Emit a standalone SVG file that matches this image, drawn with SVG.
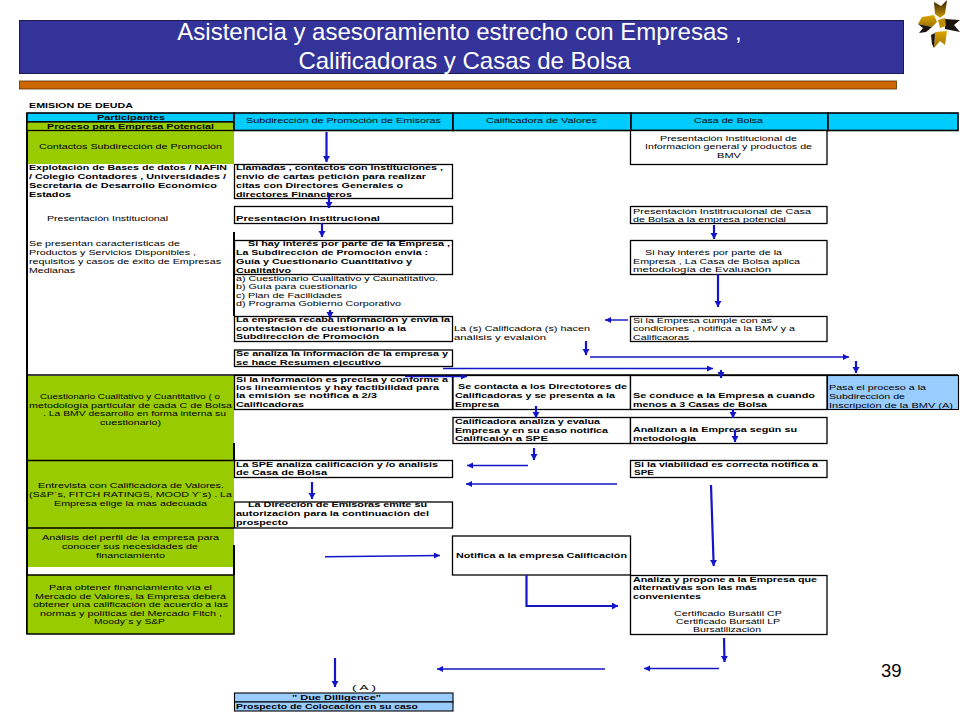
<svg xmlns="http://www.w3.org/2000/svg" width="960" height="720" viewBox="0 0 960 720">
<style>
text{font-family:"Liberation Sans",Arial,sans-serif;fill:#000}
.t{font-size:7.5px}
.b{font-size:7.5px;font-weight:bold}
.title{font-size:24px;fill:#fff;text-anchor:middle}
.box{fill:#fff;stroke:#000;stroke-width:1.3}
.cy{fill:#00ccff;stroke:#000;stroke-width:1.6}
.gr{fill:#99cc00}
.lb{fill:#99ccff;stroke:#000;stroke-width:1.1}
.rule{stroke:#000;stroke-width:1.3;fill:none}
.thick{stroke:#000;stroke-width:2;fill:none}
.a{fill:none;stroke:#1414c8;stroke-width:2.2;marker-end:url(#ah)}
.a2{fill:none;stroke:#1414c8;stroke-width:1.4;marker-end:url(#ah2)}
</style>
<defs>
<marker id="ah" markerUnits="userSpaceOnUse" markerWidth="8" markerHeight="8" refX="6" refY="3.5" orient="auto"><path d="M0 0L6 3.5L0 7Z" fill="#1414c8"/></marker>
<marker id="ah2" markerUnits="userSpaceOnUse" markerWidth="8" markerHeight="8" refX="6" refY="3" orient="auto"><path d="M0 0L6 3L0 6Z" fill="#1414c8"/></marker>
<linearGradient id="gold" x1="0" y1="0" x2="0" y2="1"><stop offset="0" stop-color="#2a1c00"/><stop offset="1" stop-color="#d29a00"/></linearGradient>
<linearGradient id="gold2" x1="0" y1="0" x2="0" y2="1"><stop offset="0" stop-color="#e0a800"/><stop offset="1" stop-color="#9a7000"/></linearGradient>
</defs>

<g id="title">
<rect x="19.500" y="20.500" width="884" height="53" fill="#333399" stroke="#1a1a50"/>
<text class="title" x="459.500" y="40">Asistencia y asesoramiento estrecho con Empresas ,</text>
<text class="title" x="464.500" y="69">Calificadoras y Casas de Bolsa</text>
<rect x="19.500" y="81" width="877" height="8" fill="#cc6600" stroke="#5a3000" stroke-width="0.8"/>
</g>
<g id="logo">
<polygon points="934,2 941,6 947,0 945,14 940,18 935,14" fill="url(#gold)"/>
<polygon points="922,17 934,15 937,22 932,27 918,24" fill="url(#gold2)"/>
<polygon points="945,19 960,20 954,25 960,32 945,29" fill="#1a1410"/>
<polygon points="938,20 945,18 946,26 940,28" fill="#c08c00"/>
<polygon points="918,24 932,27 926,32 919,33 923,28" fill="#1a1410"/>
<polygon points="935,32 947,31 945,45 940,41 934,48" fill="url(#gold2)"/>
<polygon points="931,35 935,33 934,48 932,44" fill="#1a1410"/>
</g>

<g id="grid">
<rect x="28" y="130" width="206" height="34" class="gr"/>
<rect x="28" y="376" width="206" height="84" class="gr"/>
<rect x="28" y="461" width="206" height="67" class="gr"/>
<rect x="28" y="528" width="206" height="39" class="gr"/>
<path class="rule" d="M27 375H958M28 460.500H234M28 528H234"/>
<path class="thick" d="M27 113V634M234 232V316M234 443V460M234 545V575"/>
</g>

<g id="head-participantes"><rect x="27" y="113" width="207" height="9" class="cy"/><text class="b" x="97" y="120" textLength="68" lengthAdjust="spacingAndGlyphs">Participantes</text></g>
<g id="head-proceso"><rect x="27" y="122" width="207" height="8.500" class="gr" stroke="#000" stroke-width="1.300"/><text class="b" x="47" y="128.500" textLength="167" lengthAdjust="spacingAndGlyphs">Proceso para Empresa Potencial</text></g>
<g id="head-sub"><rect x="234" y="113" width="219" height="17.500" class="cy"/><text class="t" x="246" y="123" textLength="195" lengthAdjust="spacingAndGlyphs">Subdirección de Promoción de Emisoras</text></g>
<g id="head-cal"><rect x="453" y="113" width="178" height="17.500" class="cy"/><text class="t" x="486" y="123" textLength="111" lengthAdjust="spacingAndGlyphs">Calificadora de Valores</text></g>
<g id="head-casa"><rect x="631" y="113" width="197" height="17.500" class="cy"/><text class="t" x="694" y="123" textLength="69" lengthAdjust="spacingAndGlyphs">Casa de Bolsa</text></g>
<g id="head-end"><rect x="828" y="113" width="130" height="17.500" class="cy"/></g>

<g id="doc-title"><text class="b" x="29" y="108" textLength="104" lengthAdjust="spacingAndGlyphs">EMISION DE DEUDA</text></g>

<g id="proc-contactos"><text class="t" x="39" y="149" textLength="183" lengthAdjust="spacingAndGlyphs">Contactos Subdirección de Promoción</text></g>
<g id="proc-explotacion">
<text class="b" x="29" y="169.500" textLength="198" lengthAdjust="spacingAndGlyphs">Explotación de Bases de datos / NAFIN</text>
<text class="b" x="29" y="178.500" textLength="197" lengthAdjust="spacingAndGlyphs">/ Colegio Contadores , Universidades /</text>
<text class="b" x="29" y="187.500" textLength="188" lengthAdjust="spacingAndGlyphs">Secretaria de Desarrollo Económico</text>
<text class="b" x="29" y="196.500" textLength="42" lengthAdjust="spacingAndGlyphs">Estados</text>
</g>
<g id="proc-presentacion"><text class="t" x="47" y="221" textLength="121" lengthAdjust="spacingAndGlyphs">Presentación Institucional</text></g>
<g id="proc-caracteristicas">
<text class="t" x="29" y="246" textLength="151" lengthAdjust="spacingAndGlyphs">Se presentan características de</text>
<text class="t" x="29" y="255" textLength="167" lengthAdjust="spacingAndGlyphs">Productos y Servicios Disponibles ,</text>
<text class="t" x="29" y="264" textLength="192" lengthAdjust="spacingAndGlyphs">requisitos y casos de éxito de Empresas</text>
<text class="t" x="29" y="272.500" textLength="46" lengthAdjust="spacingAndGlyphs">Medianas</text>
</g>
<g id="proc-cuestionario">
<text class="t" x="40" y="399" textLength="180" lengthAdjust="spacingAndGlyphs">Cuestionario Cualitativo y Cuantitativo ( o</text>
<text class="t" x="29" y="407.500" textLength="203" lengthAdjust="spacingAndGlyphs">metodología particular de cada C de Bolsa</text>
<text class="t" x="43" y="416" textLength="183" lengthAdjust="spacingAndGlyphs">. La BMV desarrollo en forma interna su</text>
<text class="t" x="100" y="424.500" textLength="61" lengthAdjust="spacingAndGlyphs">cuestionario)</text>
</g>
<g id="proc-entrevista">
<text class="t" x="38" y="488" textLength="186" lengthAdjust="spacingAndGlyphs">Entrevista con Calificadora de Valores.</text>
<text class="t" x="29" y="497" textLength="203" lengthAdjust="spacingAndGlyphs">(S&amp;P´s, FITCH RATINGS, MOOD Y´s) . La</text>
<text class="t" x="54" y="505.500" textLength="153" lengthAdjust="spacingAndGlyphs">Empresa elige la más adecuada</text>
</g>
<g id="proc-analisis">
<text class="t" x="42" y="540" textLength="177" lengthAdjust="spacingAndGlyphs">Análisis del perfil de la empresa para</text>
<text class="t" x="62" y="549" textLength="136" lengthAdjust="spacingAndGlyphs">conocer sus necesidades de</text>
<text class="t" x="96" y="558" textLength="69" lengthAdjust="spacingAndGlyphs">financiamiento</text>
</g>
<g id="proc-obtener">
<rect x="27" y="575" width="207" height="59" class="gr" stroke="#000" stroke-width="1.500"/>
<text class="t" x="49" y="590" textLength="163" lengthAdjust="spacingAndGlyphs">Para obtener financiamiento vía el</text>
<text class="t" x="35" y="598.500" textLength="191" lengthAdjust="spacingAndGlyphs">Mercado de Valores, la Empresa deberá</text>
<text class="t" x="33" y="607" textLength="195" lengthAdjust="spacingAndGlyphs">obtener una calificación de acuerdo a las</text>
<text class="t" x="40" y="615.500" textLength="182" lengthAdjust="spacingAndGlyphs">normas y políticas del Mercado Fitch ,</text>
<text class="t" x="94" y="624" textLength="71" lengthAdjust="spacingAndGlyphs">Moody´s y S&amp;P</text>
</g>

<g id="sub-llamadas">
<rect x="234.500" y="164.500" width="218" height="34" class="box"/>
<text class="b" x="236" y="169.500" textLength="207" lengthAdjust="spacingAndGlyphs">Llamadas , contactos con instituciones ,</text>
<text class="b" x="236" y="178.500" textLength="190" lengthAdjust="spacingAndGlyphs">envio de cartas petición para realizar</text>
<text class="b" x="236" y="187.500" textLength="167" lengthAdjust="spacingAndGlyphs">citas con Directores Generales o</text>
<text class="b" x="236" y="196.500" textLength="116" lengthAdjust="spacingAndGlyphs">directores Financieros</text>
</g>
<g id="sub-presentacion">
<rect x="234.500" y="206.500" width="218" height="17" class="box"/>
<text class="b" x="236" y="221" textLength="144" lengthAdjust="spacingAndGlyphs">Presentación Institrucional</text>
</g>
<g id="sub-interes">
<rect x="234.500" y="240.500" width="218" height="34" class="box"/>
<text class="b" x="248" y="245.500" textLength="202" lengthAdjust="spacingAndGlyphs">Si hay interés por parte de la Empresa ,</text>
<text class="b" x="236" y="254.500" textLength="192" lengthAdjust="spacingAndGlyphs">La Subdirección de Promoción envia :</text>
<text class="b" x="236" y="263.500" textLength="176" lengthAdjust="spacingAndGlyphs">Guía y Cuestionario Cuantitativo y</text>
<text class="b" x="236" y="272.500" textLength="55" lengthAdjust="spacingAndGlyphs">Cualitativo</text>
</g>
<g id="sub-lista">
<text class="t" x="236" y="280.500" textLength="202" lengthAdjust="spacingAndGlyphs">a) Cuestionario Cualitativo y Caunatitativo.</text>
<text class="t" x="236" y="289" textLength="121" lengthAdjust="spacingAndGlyphs">b) Guía para cuestionario</text>
<text class="t" x="236" y="297.500" textLength="106" lengthAdjust="spacingAndGlyphs">c) Plan de Facilidades</text>
<text class="t" x="236" y="305.500" textLength="165" lengthAdjust="spacingAndGlyphs">d) Programa Gobierno Corporativo</text>
</g>
<g id="sub-recaba">
<rect x="234.500" y="316.500" width="218" height="25" class="box"/>
<text class="b" x="236" y="322" textLength="214" lengthAdjust="spacingAndGlyphs">La empresa recaba información y envia la</text>
<text class="b" x="236" y="330.500" textLength="170" lengthAdjust="spacingAndGlyphs">contestación de cuestionario a la</text>
<text class="b" x="236" y="339" textLength="143" lengthAdjust="spacingAndGlyphs">Subdirección de Promoción</text>
</g>
<g id="sub-analiza">
<rect x="234.500" y="350" width="218" height="16.500" class="box"/>
<text class="b" x="236" y="356" textLength="212" lengthAdjust="spacingAndGlyphs">Se analiza la información de la empresa y</text>
<text class="b" x="236" y="364.500" textLength="145" lengthAdjust="spacingAndGlyphs">se hace Resumen ejecutivo</text>
</g>
<g id="sub-precisa">
<rect x="234.500" y="375.500" width="218" height="34" class="box"/>
<text class="b" x="236" y="381.500" textLength="212" lengthAdjust="spacingAndGlyphs">Si la información es precisa y conforme a</text>
<text class="b" x="236" y="389.500" textLength="203" lengthAdjust="spacingAndGlyphs">los lineamientos y hay factibilidad para</text>
<text class="b" x="236" y="398" textLength="141" lengthAdjust="spacingAndGlyphs">la emisión se notifica a 2/3</text>
<text class="b" x="236" y="407" textLength="68" lengthAdjust="spacingAndGlyphs">Calificadoras</text>
</g>
<g id="sub-spe">
<rect x="234.500" y="460.500" width="218" height="17" class="box"/>
<text class="b" x="236" y="466.500" textLength="202" lengthAdjust="spacingAndGlyphs">La SPE analiza calificación y /o analisis</text>
<text class="b" x="236" y="475" textLength="91" lengthAdjust="spacingAndGlyphs">de Casa de Bolsa</text>
</g>
<g id="sub-direccion">
<rect x="234.500" y="502" width="218" height="26" class="box"/>
<text class="b" x="248" y="507" textLength="179" lengthAdjust="spacingAndGlyphs">La Dirección de Emisoras emite su</text>
<text class="b" x="236" y="516" textLength="193" lengthAdjust="spacingAndGlyphs">autorización para la continuación del</text>
<text class="b" x="236" y="525" textLength="52" lengthAdjust="spacingAndGlyphs">prospecto</text>
</g>
<g id="sub-due">
<rect x="234.500" y="693" width="218.500" height="9" class="lb"/>
<rect x="234.500" y="702" width="218.500" height="9" class="lb"/>
<text class="b" x="292" y="700" textLength="89" lengthAdjust="spacingAndGlyphs">" Due Dilligence"</text>
<text class="b" x="236" y="709" textLength="182" lengthAdjust="spacingAndGlyphs">Prospecto de Colocación en su caso</text>
</g>
<g id="label-a"><text class="t" x="352" y="690" textLength="24" lengthAdjust="spacingAndGlyphs">( A )</text></g>

<g id="cal-hacen">
<text class="t" x="454" y="331" textLength="136" lengthAdjust="spacingAndGlyphs">La (s) Calificadora (s) hacen</text>
<text class="t" x="454" y="339.500" textLength="92" lengthAdjust="spacingAndGlyphs">análisis y evalaión</text>
</g>
<g id="cal-contacta">
<rect x="453" y="375.500" width="177.500" height="34" class="box"/>
<text class="b" x="458" y="389" textLength="169" lengthAdjust="spacingAndGlyphs">Se contacta a los Directotores de</text>
<text class="b" x="455" y="398" textLength="160" lengthAdjust="spacingAndGlyphs">Calificadoras y se presenta a la</text>
<text class="b" x="455" y="407" textLength="44" lengthAdjust="spacingAndGlyphs">Empresa</text>
</g>
<g id="cal-analiza">
<rect x="453" y="417.500" width="177.500" height="26" class="box"/>
<text class="b" x="455" y="423.500" textLength="145" lengthAdjust="spacingAndGlyphs">Calificadora analiza y evalua</text>
<text class="b" x="455" y="432.500" textLength="153" lengthAdjust="spacingAndGlyphs">Empresa y en su caso notifica</text>
<text class="b" x="455" y="441" textLength="93" lengthAdjust="spacingAndGlyphs">Calificaión a SPE</text>
</g>
<g id="cal-notifica">
<rect x="452.500" y="536" width="178" height="39" class="box"/>
<text class="b" x="456" y="558" textLength="171" lengthAdjust="spacingAndGlyphs">Notifica a la empresa Calificación</text>
</g>

<g id="casa-institucional">
<rect x="630.500" y="130.500" width="196.500" height="34" class="box"/>
<text class="t" x="660" y="140.500" textLength="137" lengthAdjust="spacingAndGlyphs">Presentación Institucional de</text>
<text class="t" x="645" y="149" textLength="167" lengthAdjust="spacingAndGlyphs">Información general y productos de</text>
<text class="t" x="717" y="158" textLength="24" lengthAdjust="spacingAndGlyphs">BMV</text>
</g>
<g id="casa-presentacion">
<rect x="630.500" y="206.500" width="196.500" height="17" class="box"/>
<text class="t" x="633" y="213.500" textLength="178" lengthAdjust="spacingAndGlyphs">Presentación Institrucuional de Casa</text>
<text class="t" x="633" y="221.500" textLength="153" lengthAdjust="spacingAndGlyphs">de Bolsa a la empresa potencial</text>
</g>
<g id="casa-interes">
<rect x="630.500" y="240.500" width="196.500" height="34" class="box"/>
<text class="t" x="645" y="255" textLength="137" lengthAdjust="spacingAndGlyphs">Si hay interés por parte de la</text>
<text class="t" x="633" y="263.500" textLength="167" lengthAdjust="spacingAndGlyphs">Empresa , La Casa de Bolsa aplica</text>
<text class="t" x="633" y="272" textLength="138" lengthAdjust="spacingAndGlyphs">metodología de Evaluación</text>
</g>
<g id="casa-cumple">
<rect x="630.500" y="316.500" width="196.500" height="25" class="box"/>
<text class="t" x="633" y="322.500" textLength="139" lengthAdjust="spacingAndGlyphs">Si la Empresa cumple con as</text>
<text class="t" x="633" y="331" textLength="162" lengthAdjust="spacingAndGlyphs">condiciones , notifica a la BMV y a</text>
<text class="t" x="633" y="339.500" textLength="56" lengthAdjust="spacingAndGlyphs">Calificaoras</text>
</g>
<g id="casa-conduce">
<rect x="630.500" y="375.500" width="196.500" height="34" class="box"/>
<text class="b" x="633" y="398" textLength="182" lengthAdjust="spacingAndGlyphs">Se conduce a la Empresa a cuando</text>
<text class="b" x="633" y="407" textLength="134" lengthAdjust="spacingAndGlyphs">menos a 3 Casas de Bolsa</text>
</g>
<g id="casa-analizan">
<rect x="630.500" y="417.500" width="196.500" height="26" class="box"/>
<text class="b" x="633" y="432" textLength="164" lengthAdjust="spacingAndGlyphs">Analizan a la Empresa según su</text>
<text class="b" x="633" y="441" textLength="63" lengthAdjust="spacingAndGlyphs">metodologia</text>
</g>
<g id="casa-viabilidad">
<rect x="630.500" y="460.500" width="196.500" height="17" class="box"/>
<text class="b" x="634" y="466.500" textLength="184" lengthAdjust="spacingAndGlyphs">Si la viabilidad es correcta notifica a</text>
<text class="b" x="634" y="475" textLength="20" lengthAdjust="spacingAndGlyphs">SPE</text>
</g>
<g id="casa-propone">
<rect x="630.500" y="575.500" width="196.500" height="59" class="box"/>
<text class="b" x="633" y="581.500" textLength="184" lengthAdjust="spacingAndGlyphs">Analiza y propone a la Empresa que</text>
<text class="b" x="633" y="590" textLength="124" lengthAdjust="spacingAndGlyphs">alternativas son las más</text>
<text class="b" x="633" y="598.500" textLength="68" lengthAdjust="spacingAndGlyphs">convenientes</text>
<text class="t" x="674" y="616" textLength="108" lengthAdjust="spacingAndGlyphs">Certificado Bursátil CP</text>
<text class="t" x="676" y="624" textLength="104" lengthAdjust="spacingAndGlyphs">Certificado Bursátil LP</text>
<text class="t" x="693" y="632" textLength="68" lengthAdjust="spacingAndGlyphs">Bursatilización</text>
</g>
<g id="bmv-inscripcion">
<rect x="827.500" y="375.500" width="131" height="34" fill="#99ccff" stroke="#000" stroke-width="1.100"/>
<text class="t" x="829" y="390" textLength="97" lengthAdjust="spacingAndGlyphs">Pasa el proceso a la</text>
<text class="t" x="829" y="399" textLength="76" lengthAdjust="spacingAndGlyphs">Subdirección de</text>
<text class="t" x="829" y="407.500" textLength="124" lengthAdjust="spacingAndGlyphs">Inscripción de la BMV (A)</text>
</g>

<g id="connectors">
<path class="a" d="M326.500 132V162"/>
<path class="a" d="M329 193V208"/>
<path class="a" d="M322 223V237"/>
<path class="a" d="M330 310V318"/>
<path class="a" d="M714 225V239"/>
<path class="a" d="M718 274V307"/>
<path class="a2" d="M628 320H605"/>
<path class="a" d="M586 341V355"/>
<path class="a2" d="M590 357H849"/>
<path class="a" d="M856 361V373"/>
<path class="a2" d="M443 368.500H713"/>
<path class="a" d="M721 370V378"/>
<path class="a2" d="M405 376.500H467"/>
<path class="a" d="M536 406V418"/>
<path class="a" d="M733 409V418"/>
<path class="a" d="M735 430V442"/>
<path class="a" d="M534 448V460"/>
<path class="a2" d="M528 465.500H467"/>
<path class="a2" d="M617 484H466"/>
<path class="a" d="M312 482V499"/>
<path class="a" d="M711 485L713.700 566"/>
<path class="a2" d="M325 556.700L440 555.500"/>
<path class="a" d="M526.500 575V606H618"/>
<path class="a" d="M724 638L724.500 662"/>
<path class="a2" d="M719 668.500H644"/>
<path class="a2" d="M605 669H437"/>
<path class="a" d="M335 658V687"/>
</g>
<g id="page-number"><text x="881" y="677" font-size="18.500">39</text></g>
</svg>
